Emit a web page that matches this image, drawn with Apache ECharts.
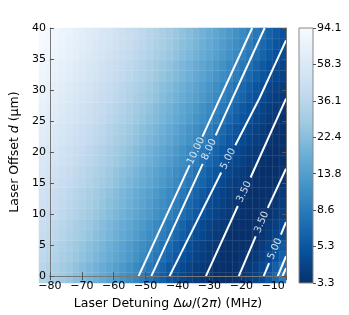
<!DOCTYPE html>
<html><head><meta charset="utf-8">
<script src="https://cdn.jsdelivr.net/npm/echarts@6/dist/echarts.min.js"></script>
<style>html,body{margin:0;padding:0;background:#fff}#c{width:349px;height:315px}</style>
</head><body><div id="c"></div>
<script>
const FONT = "'DejaVu Sans', sans-serif";
// cell centres
const xCenters = [-79,-77,-75,-73,-71,-69,-67,-65,-63,-61,-59,-57,-55,-53,-51,-49,-47,-45,-43,-41,-39,-37,-35,-33,-31,-29,-27,-25,-23,-21,-19,-17,-15,-13,-11,-9,-7];
const yCenters = [0.83,2.5,4.17,5.83,7.5,9.17,10.83,12.5,14.17,15.83,17.5,19.17,20.83,22.5,24.17,25.83,27.5,29.17,30.83,32.5,34.17,35.83,37.5,39.17];
const xTicks = [-80,-70,-60,-50,-40,-30,-20,-10];
const yTicks = [0,5,10,15,20,25,30,35,40];
const cbTicks = [3.3,5.3,8.6,13.8,22.4,36.1,58.3,94.1];
// rows bottom (y≈0.8) to top (y≈39.2)
const rows = [
[33.9,31.5,29.3,27.1,25.1,23.0,21.3,19.5,17.9,16.3,14.9,13.5,12.2,11.0,9.9,8.9,7.75,6.8,6.0,5.3,4.8,4.4,4.1,3.8,3.6,3.4,3.33,3.3,3.33,3.42,3.58,3.84,4.2,4.7,5.5,6.8,8.65],
[35.2,32.7,30.4,28.2,26.1,24.1,22.2,20.3,18.7,17.1,15.6,14.2,12.8,11.6,10.4,9.4,8.3,7.3,6.4,5.6,5.0,4.6,4.2,3.9,3.7,3.5,3.37,3.31,3.31,3.37,3.49,3.69,4.0,4.44,5.0,6.1,7.6],
[37.8,35.2,32.7,30.4,28.2,26.1,24.1,22.2,20.3,18.7,17.1,15.6,14.2,12.8,11.6,10.4,9.4,8.3,7.3,6.4,5.6,5.0,4.6,4.2,3.9,3.7,3.5,3.37,3.31,3.31,3.37,3.49,3.69,4.0,4.44,5.0,6.1],
[39.2,36.5,33.9,31.5,29.3,27.1,25.1,23.0,21.3,19.5,17.9,16.3,14.9,13.5,12.2,11.0,9.9,8.9,7.75,6.8,6.0,5.3,4.8,4.4,4.1,3.8,3.6,3.4,3.33,3.3,3.33,3.42,3.58,3.84,4.2,4.7,5.5],
[42.0,39.2,36.5,33.9,31.5,29.3,27.1,25.1,23.0,21.3,19.5,17.9,16.3,14.9,13.5,12.2,11.0,9.9,8.9,7.75,6.8,6.0,5.3,4.8,4.4,4.1,3.8,3.6,3.4,3.33,3.3,3.33,3.42,3.58,3.84,4.2,4.7],
[43.4,40.5,37.8,35.2,32.7,30.4,28.2,26.1,24.1,22.2,20.3,18.7,17.1,15.6,14.2,12.8,11.6,10.4,9.4,8.3,7.3,6.4,5.6,5.0,4.6,4.2,3.9,3.7,3.5,3.37,3.31,3.31,3.37,3.49,3.69,4.0,4.44],
[46.4,43.4,40.5,37.8,35.2,32.7,30.4,28.2,26.1,24.1,22.2,20.3,18.7,17.1,15.6,14.2,12.8,11.6,10.4,9.4,8.3,7.3,6.4,5.6,5.0,4.6,4.2,3.9,3.7,3.5,3.37,3.31,3.31,3.37,3.49,3.69,4.0],
[47.9,44.9,42.0,39.2,36.5,33.9,31.5,29.3,27.1,25.1,23.0,21.3,19.5,17.9,16.3,14.9,13.5,12.2,11.0,9.9,8.9,7.75,6.8,6.0,5.3,4.8,4.4,4.1,3.8,3.6,3.4,3.33,3.3,3.33,3.42,3.58,3.84],
[49.5,46.4,43.4,40.5,37.8,35.2,32.7,30.4,28.2,26.1,24.1,22.2,20.3,18.7,17.1,15.6,14.2,12.8,11.6,10.4,9.4,8.3,7.3,6.4,5.6,5.0,4.6,4.2,3.9,3.7,3.5,3.37,3.31,3.31,3.37,3.49,3.69],
[52.8,49.5,46.4,43.4,40.5,37.8,35.2,32.7,30.4,28.2,26.1,24.1,22.2,20.3,18.7,17.1,15.6,14.2,12.8,11.6,10.4,9.4,8.3,7.3,6.4,5.6,5.0,4.6,4.2,3.9,3.7,3.5,3.37,3.31,3.31,3.37,3.49],
[54.4,51.1,47.9,44.9,42.0,39.2,36.5,33.9,31.5,29.3,27.1,25.1,23.0,21.3,19.5,17.9,16.3,14.9,13.5,12.2,11.0,9.9,8.9,7.75,6.8,6.0,5.3,4.8,4.4,4.1,3.8,3.6,3.4,3.33,3.3,3.33,3.42],
[57.9,54.4,51.1,47.9,44.9,42.0,39.2,36.5,33.9,31.5,29.3,27.1,25.1,23.0,21.3,19.5,17.9,16.3,14.9,13.5,12.2,11.0,9.9,8.9,7.75,6.8,6.0,5.3,4.8,4.4,4.1,3.8,3.6,3.4,3.33,3.3,3.33],
[59.7,56.1,52.8,49.5,46.4,43.4,40.5,37.8,35.2,32.7,30.4,28.2,26.1,24.1,22.2,20.3,18.7,17.1,15.6,14.2,12.8,11.6,10.4,9.4,8.3,7.3,6.4,5.6,5.0,4.6,4.2,3.9,3.7,3.5,3.37,3.31,3.31],
[63.3,59.7,56.1,52.8,49.5,46.4,43.4,40.5,37.8,35.2,32.7,30.4,28.2,26.1,24.1,22.2,20.3,18.7,17.1,15.6,14.2,12.8,11.6,10.4,9.4,8.3,7.3,6.4,5.6,5.0,4.6,4.2,3.9,3.7,3.5,3.37,3.31],
[65.2,61.5,57.9,54.4,51.1,47.9,44.9,42.0,39.2,36.5,33.9,31.5,29.3,27.1,25.1,23.0,21.3,19.5,17.9,16.3,14.9,13.5,12.2,11.0,9.9,8.9,7.75,6.8,6.0,5.3,4.8,4.4,4.1,3.8,3.6,3.4,3.33],
[69.0,65.2,61.5,57.9,54.4,51.1,47.9,44.9,42.0,39.2,36.5,33.9,31.5,29.3,27.1,25.1,23.0,21.3,19.5,17.9,16.3,14.9,13.5,12.2,11.0,9.9,8.9,7.75,6.8,6.0,5.3,4.8,4.4,4.1,3.8,3.6,3.4],
[71.0,67.1,63.3,59.7,56.1,52.8,49.5,46.4,43.4,40.5,37.8,35.2,32.7,30.4,28.2,26.1,24.1,22.2,20.3,18.7,17.1,15.6,14.2,12.8,11.6,10.4,9.4,8.3,7.3,6.4,5.6,5.0,4.6,4.2,3.9,3.7,3.5],
[75.1,71.0,67.1,63.3,59.7,56.1,52.8,49.5,46.4,43.4,40.5,37.8,35.2,32.7,30.4,28.2,26.1,24.1,22.2,20.3,18.7,17.1,15.6,14.2,12.8,11.6,10.4,9.4,8.3,7.3,6.4,5.6,5.0,4.6,4.2,3.9,3.7],
[77.2,73.0,69.0,65.2,61.5,57.9,54.4,51.1,47.9,44.9,42.0,39.2,36.5,33.9,31.5,29.3,27.1,25.1,23.0,21.3,19.5,17.9,16.3,14.9,13.5,12.2,11.0,9.9,8.9,7.75,6.8,6.0,5.3,4.8,4.4,4.1,3.8],
[81.4,77.2,73.0,69.0,65.2,61.5,57.9,54.4,51.1,47.9,44.9,42.0,39.2,36.5,33.9,31.5,29.3,27.1,25.1,23.0,21.3,19.5,17.9,16.3,14.9,13.5,12.2,11.0,9.9,8.9,7.75,6.8,6.0,5.3,4.8,4.4,4.1],
[83.6,79.3,75.1,71.0,67.1,63.3,59.7,56.1,52.8,49.5,46.4,43.4,40.5,37.8,35.2,32.7,30.4,28.2,26.1,24.1,22.2,20.3,18.7,17.1,15.6,14.2,12.8,11.6,10.4,9.4,8.3,7.3,6.4,5.6,5.0,4.6,4.2],
[88.1,83.6,79.3,75.1,71.0,67.1,63.3,59.7,56.1,52.8,49.5,46.4,43.4,40.5,37.8,35.2,32.7,30.4,28.2,26.1,24.1,22.2,20.3,18.7,17.1,15.6,14.2,12.8,11.6,10.4,9.4,8.3,7.3,6.4,5.6,5.0,4.6],
[90.4,85.9,81.4,77.2,73.0,69.0,65.2,61.5,57.9,54.4,51.1,47.9,44.9,42.0,39.2,36.5,33.9,31.5,29.3,27.1,25.1,23.0,21.3,19.5,17.9,16.3,14.9,13.5,12.2,11.0,9.9,8.9,7.75,6.8,6.0,5.3,4.8],
[92.8,88.1,83.6,79.3,75.1,71.0,67.1,63.3,59.7,56.1,52.8,49.5,46.4,43.4,40.5,37.8,35.2,32.7,30.4,28.2,26.1,24.1,22.2,20.3,18.7,17.1,15.6,14.2,12.8,11.6,10.4,9.4,8.3,7.3,6.4,5.6,5.0]
];
// contour polylines (data coordinates), broken where labels sit
const contourSegments = [
 [[-52.2,0],[-36.2,17.9]], [[-32.2,22.5],[-16.6,40]],
 [[-48.2,0],[-32.1,18.1]], [[-28.05,22.7],[-12.7,40]],
 [[-42.5,0],[-26.3,16.7]], [[-21.9,21.1],[-14.2,28.8],[-6,38.0]],
 [[-31.1,0],[-21.1,11.3]], [[-17.1,15.9],[-6,28.6]],
 [[-20.8,0],[-15.5,6.4]], [[-11.7,11.0],[-6,17.3]],
 [[-13.0,0],[-11.3,2.1]], [[-7.6,6.7],[-6,8.7]],
 [[-8.6,0],[-6,3.2]],
 [[-7.1,0],[-6,1.3]]
];
const contourLabelText = ['10.00','8.00','5.00','3.50','3.50','5.00'];
const contourLabelAt = [[-34.2,20.2],[-30.1,20.4],[-24.1,18.9],[-19.1,13.6],[-13.6,8.7],[-9.45,4.4]];
const contourLabelAngle = [65,65,63,65,67,67];

const blues = ['#f7fbff','#deebf7','#c6dbef','#9ecae1','#6baed6','#4292c6','#2171b5','#08519c','#08306b'];
const vMin = 3.3, vMax = 94.1;

const heatData = [];
rows.forEach((r, j) => r.forEach((v, i) => heatData.push([i, j, v, Math.log(v)])));

const minus = s => String(s).replace('-', '\u2212');
const axisLineStyle = {color: '#777', width: 1};
const tickStyle = {color: '#555', width: 1};
const chart = echarts.init(document.getElementById('c'), null, {renderer: 'canvas'});
chart.setOption({
  animation: false,
  textStyle: {fontFamily: FONT},
  grid: [
    {left: 39, top: 28, width: 247, height: 255},
    {left: 39, top: 28, width: 247, height: 255},
    {left: 299, top: 28, width: 14, height: 255, show: true, borderColor: '#888', borderWidth: 1,
     backgroundColor: {type: 'linear', x: 0, y: 0, x2: 0, y2: 1,
       colorStops: blues.map((c, k) => ({offset: k / (blues.length - 1), color: c}))}}
  ],
  visualMap: {show: false, type: 'continuous', seriesIndex: 0, dimension: 3,
    min: Math.log(vMin), max: Math.log(vMax), inRange: {color: blues.slice().reverse()}},
  xAxis: [
    {type: 'category', gridIndex: 0, data: xCenters, show: false},
    {type: 'value', gridIndex: 1, min: -80, max: -6, interval: 10, position: 'bottom', z: 5,
     axisLine: {show: true, lineStyle: axisLineStyle},
     axisTick: {inside: true, length: 4, lineStyle: tickStyle},
     splitLine: {show: false},
     axisLabel: {color: '#000', fontSize: 11, margin: 5, fontFamily: FONT, showMaxLabel: false,
       formatter: v => xTicks.includes(v) ? minus(v) : ''},
     name: 'Laser Detuning {m|Δ}{i|ω}{m|/(2}{i|π}{m|)} (MHz)', nameLocation: 'middle', nameGap: 17,
     nameTextStyle: {color: '#000', fontSize: 12.5, fontFamily: FONT,
       rich: {i: {fontStyle: 'italic', fontSize: 12.5, fontFamily: FONT, color: '#000'},
              m: {fontSize: 12.5, fontFamily: FONT, color: '#000'}}}},
    {type: 'value', gridIndex: 1, min: -80, max: -6, interval: 10, position: 'top', z: 5,
     axisLine: {show: true, lineStyle: axisLineStyle},
     axisTick: {inside: true, length: 4, lineStyle: tickStyle},
     splitLine: {show: false}, axisLabel: {show: false}},
    {type: 'category', gridIndex: 2, data: ['c'], show: false}
  ],
  yAxis: [
    {type: 'category', gridIndex: 0, data: yCenters, show: false},
    {type: 'value', gridIndex: 1, min: 0, max: 40, interval: 5, position: 'left', z: 5,
     axisLine: {show: true, lineStyle: axisLineStyle},
     axisTick: {inside: true, length: 4, lineStyle: tickStyle},
     splitLine: {show: false},
     axisLabel: {color: '#000', fontSize: 11, margin: 4, fontFamily: FONT,
       formatter: v => yTicks.includes(v) ? String(v) : ''},
     name: 'Laser Offset {i|d} (μm)', nameLocation: 'middle', nameGap: 21, nameRotate: 90,
     nameTextStyle: {color: '#000', fontSize: 12.5, fontFamily: FONT,
       rich: {i: {fontStyle: 'italic', fontSize: 12.5, fontFamily: FONT, color: '#000'}}}},
    {type: 'value', gridIndex: 1, min: 0, max: 40, interval: 5, position: 'right', z: 5,
     axisLine: {show: true, lineStyle: axisLineStyle},
     axisTick: {inside: true, length: 4, lineStyle: tickStyle},
     splitLine: {show: false}, axisLabel: {show: false}},
    {type: 'value', gridIndex: 2, min: 0, max: cbTicks.length - 1, interval: 1, position: 'right',
     axisLine: {show: false}, splitLine: {show: false},
     axisTick: {show: true, inside: false, length: 3, lineStyle: tickStyle},
     axisLabel: {color: '#000', fontSize: 11, margin: 4, fontFamily: FONT,
       formatter: v => cbTicks[v] !== undefined ? cbTicks[v].toFixed(1) : ''}}
  ],
  series: [
    {type: 'heatmap', xAxisIndex: 0, yAxisIndex: 0, data: heatData, silent: true,
     itemStyle: {borderWidth: 0.6, borderColor: 'rgba(255,255,255,0.10)'},
     emphasis: {disabled: true}},
    {type: 'lines', coordinateSystem: 'cartesian2d', xAxisIndex: 1, yAxisIndex: 1, polyline: true,
     silent: true, z: 3,
     lineStyle: {color: '#ffffff', width: 2, opacity: 1},
     data: contourSegments.map(s => ({coords: s}))},
    {type: 'scatter', xAxisIndex: 1, yAxisIndex: 1, symbolSize: 1, silent: true, z: 4,
     itemStyle: {color: 'rgba(0,0,0,0)'},
     data: contourLabelAt.map((p, k) => ({value: p,
       label: {show: true, position: 'inside', rotate: contourLabelAngle[k], formatter: contourLabelText[k],
               color: '#fff', fontSize: 10, fontFamily: FONT}}))}
  ]
});
</script></body></html>
